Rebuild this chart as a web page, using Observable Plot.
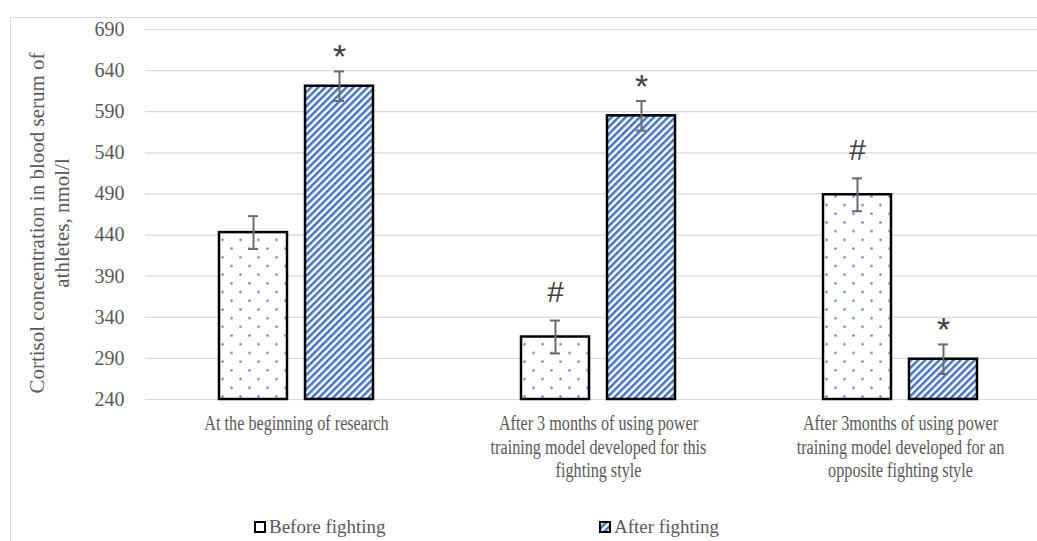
<!DOCTYPE html>
<html><head><meta charset="utf-8">
<script src="https://cdn.jsdelivr.net/npm/d3@7"></script>
<script src="https://cdn.jsdelivr.net/npm/@observablehq/plot@0.6"></script>
<style>
html,body{margin:0;padding:0;background:#fff;overflow:hidden;width:1037px;height:541px;}
#frame{position:absolute;left:10px;top:17px;width:1027px;height:524px;border-top:1px solid #d9d9d9;border-left:1px solid #d9d9d9;overflow:hidden;}
#chart{position:absolute;left:0;top:0;width:1040px;}
#chart svg{max-width:none !important;}
#ytitle{position:absolute;left:-140.5px;top:198px;width:380px;height:50px;line-height:25px;text-align:center;
  font-family:'Liberation Serif',serif;font-size:21px;color:#595959;transform:rotate(-90deg);transform-origin:center center;white-space:nowrap;}
.leg{position:absolute;top:516px;font-family:'Liberation Serif',serif;font-size:19px;color:#595959;display:flex;align-items:center;white-space:nowrap;}
.leg svg{margin-right:3px;}
</style></head><body>
<div id="frame"><div id="chart"></div></div>
<div id="ytitle">Cortisol concentration in blood serum of<br>athletes, nmol/l</div>
<div class="leg" style="left:254px"><svg width="12" height="12"><rect x="1" y="1" width="10" height="10" fill="#fff" stroke="#000" stroke-width="2"/></svg>Before fighting</div>
<div class="leg" style="left:599px"><svg width="12" height="12"><rect x="1" y="1" width="10" height="10" fill="url(#stripes)" stroke="#000" stroke-width="2"/></svg>After fighting</div>
<script>
// ---- data ----
const categories = ["At the beginning of research", "After 3 months, this style", "After 3months, opposite style"];
const categoryLabels = [
  "At the beginning of research",
  "After 3 months of using power\ntraining model developed for this\nfighting style",
  "After 3months of using power\ntraining model developed for an\nopposite fighting style"
];
const series = ["Before fighting", "After fighting"];
const beforeValues = [443, 316, 489];
const afterValues = [621, 585, 289];
const beforeErrors = [20, 20, 20];
const afterErrors = [18, 18, 18];
const beforeSig = ["", "#", "#"];
const afterSig = ["*", "*", "*"];
const yTicks = [240, 290, 340, 390, 440, 490, 540, 590, 640, 690];

const rows = categories.flatMap((c, i) => [
  {category: c, series: series[0], value: beforeValues[i], err: beforeErrors[i], sig: beforeSig[i]},
  {category: c, series: series[1], value: afterValues[i], err: afterErrors[i], sig: afterSig[i]}
]);

const errColor = "#6b6b6b";
const chart = Plot.plot({
  width: 1040,
  height: 470,
  marginTop: 11,
  marginLeft: 134,
  marginRight: 0,
  marginBottom: 89,
  style: {fontFamily: "'Liberation Serif', serif", fontSize: "16px", color: "#595959", background: "transparent", overflow: "visible", maxWidth: "none"},
  y: {domain: [yTicks[0], yTicks[yTicks.length - 1]], axis: null},
  fx: {domain: categories, padding: 0, axis: null},
  x: {domain: series, paddingInner: 0.209, paddingOuter: 0.86, axis: null},
  color: {domain: series, range: ["url(#dots)", "url(#stripes)"]},
  marks: [
    Plot.gridY(yTicks, {stroke: "#d9d9d9", strokeOpacity: 1, strokeWidth: 1.2}),
    Plot.axisY(yTicks, {tickSize: 0, tickPadding: 21, fontSize: 20, fill: "#595959", label: null}),
    Plot.axisFx({anchor: "bottom", tickSize: 0, tickPadding: 14, fontSize: 20, lineHeight: 1.18, fill: "#595959", label: null,
      tickFormat: c => categoryLabels[categories.indexOf(c)]}),
    Plot.barY(rows, {fx: "category", x: "series", y1: yTicks[0], y2: "value", fill: "series", stroke: "#000", strokeWidth: 2.5}),
    Plot.ruleX(rows, {fx: "category", x: "series", y1: d => d.value - d.err, y2: d => d.value + d.err, stroke: errColor, strokeWidth: 2}),
    Plot.tickY(rows, {fx: "category", x: "series", y: d => d.value + d.err, insetLeft: 29, insetRight: 29, stroke: errColor, strokeWidth: 2}),
    Plot.tickY(rows, {fx: "category", x: "series", y: d => d.value - d.err, insetLeft: 29, insetRight: 29, stroke: errColor, strokeWidth: 2}),
    Plot.text(rows.filter(d => d.sig === "#"), {fx: "category", x: "series", y: d => d.value + d.err, text: "sig", dy: -28,
      fontSize: 30, fontFamily: "'Liberation Sans', sans-serif", fill: "#404040"}),
    Plot.text(rows.filter(d => d.sig === "*"), {fx: "category", x: "series", y: d => d.value + d.err, text: "sig", dy: -14,
      fontSize: 34, fontFamily: "'Liberation Sans', sans-serif", fill: "#404040"})
  ]
});

// condense category tick labels horizontally (as in the reference)
chart.querySelectorAll('g[aria-label="fx-axis tick label"] text').forEach(t => {
  const x = +(t.getAttribute("x") || 0);
  const tr = t.getAttribute("transform");
  if (tr && !t.hasAttribute("x")) {
    t.setAttribute("transform", tr + " scale(0.81,1)");
  } else {
    t.setAttribute("transform", `translate(${x},0) scale(0.81,1) translate(${-x},0)` + (tr ? " " + tr : ""));
  }
});

const NS = "http://www.w3.org/2000/svg";
const defs = document.createElementNS(NS, "defs");
defs.innerHTML = `
  <pattern id="dots" patternUnits="userSpaceOnUse" width="18" height="17.4">
    <rect width="18" height="17.4" fill="#fff"/>
    <circle cx="4.5" cy="4.35" r="1.3" fill="#5b86d6"/>
    <circle cx="13.5" cy="13.05" r="1.3" fill="#5b86d6"/>
  </pattern>
  <pattern id="stripes" patternUnits="userSpaceOnUse" width="5" height="5" patternTransform="rotate(45)">
    <rect width="5" height="5" fill="#fff"/>
    <rect width="2.5" height="5" fill="#4472c4"/>
  </pattern>`;
chart.insertBefore(defs, chart.firstChild);
document.getElementById("chart").appendChild(chart);
</script>
</body></html>
